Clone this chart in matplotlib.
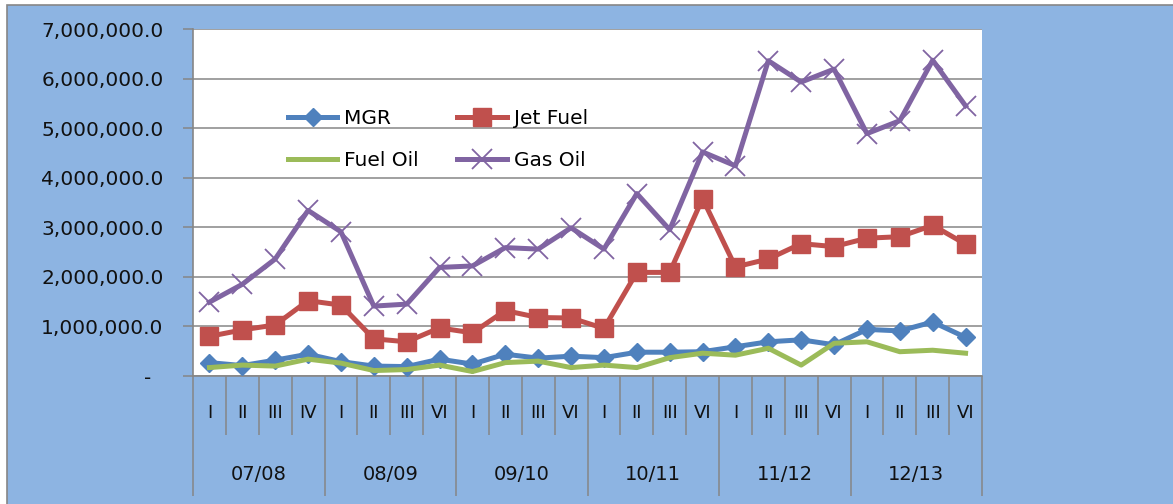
import matplotlib
matplotlib.use("Agg")
import matplotlib.pyplot as plt
from matplotlib.patches import Rectangle
from matplotlib.ticker import FuncFormatter, FixedLocator
import numpy as np

plt.rcParams['font.family'] = ['DejaVu Sans']

years = ["07/08", "08/09", "09/10", "10/11", "11/12", "12/13"]
quarters = ["I", "II", "III", "IV",
            "I", "II", "III", "VI",
            "I", "II", "III", "VI",
            "I", "II", "III", "VI",
            "I", "II", "III", "VI",
            "I", "II", "III", "VI"]

mgr = [270000, 210000, 320000, 440000, 290000, 200000, 190000, 340000,
       240000, 440000, 360000, 400000, 370000, 480000, 480000, 490000,
       590000, 690000, 730000, 630000, 940000, 910000, 1090000, 780000]
jet_fuel = [800000, 930000, 1030000, 1520000, 1430000, 750000, 690000, 970000,
            870000, 1320000, 1180000, 1170000, 960000, 2090000, 2090000, 3580000,
            2200000, 2360000, 2670000, 2610000, 2780000, 2810000, 3040000, 2660000]
fuel_oil = [170000, 220000, 200000, 340000, 260000, 110000, 130000, 220000,
            90000, 270000, 300000, 170000, 220000, 170000, 370000, 460000,
            420000, 560000, 220000, 660000, 690000, 490000, 520000, 460000]
gas_oil = [1490000, 1850000, 2360000, 3340000, 2910000, 1410000, 1450000, 2190000,
           2220000, 2590000, 2560000, 2990000, 2560000, 3680000, 2950000, 4520000,
           4240000, 6360000, 5930000, 6190000, 4890000, 5150000, 6370000, 5450000]

W, H = 1173, 504
fig = plt.figure(figsize=(W / 100, H / 100), dpi=100, facecolor="white")
bg = "#8DB4E2"
grey = "#868686"
fig.patches.append(Rectangle((7 / W, -0.01), 1.02, 1 - 5 / H + 0.01,
                             transform=fig.transFigure, facecolor=bg,
                             edgecolor=grey, linewidth=1.2, zorder=-5))

ax = fig.add_axes([193 / W, 1 - 376 / H, (982 - 193) / W, (376 - 29) / H])
ax.set_facecolor("white")

x = np.arange(len(quarters)) + 0.5
lw = 3.6
l1, = ax.plot(x, mgr, color="#4F81BD", lw=lw, marker="D", ms=9.5, label="MGR", zorder=3)
l2, = ax.plot(x, jet_fuel, color="#C0504D", lw=lw, marker="s", ms=13, label="Jet Fuel", zorder=3)
l3, = ax.plot(x, fuel_oil, color="#9BBB59", lw=lw, label="Fuel Oil", zorder=3)
l4, = ax.plot(x, gas_oil, color="#8064A2", lw=lw, marker="x", ms=14, mew=1.3,
              label="Gas Oil", zorder=3)

ax.set_xlim(0, len(quarters))
ax.set_ylim(0, 7000000)
ax.set_yticks(np.arange(0, 7000001, 1000000))
ax.yaxis.set_major_formatter(FuncFormatter(
    lambda v, p: "-\u2007" if v == 0 else f"{v:,.1f}"))
ax.grid(axis="y", color=grey, lw=1.1, zorder=1)
ax.set_axisbelow(True)

for s in ["top", "right"]:
    ax.spines[s].set_visible(False)
for s in ["left", "bottom"]:
    ax.spines[s].set_color(grey)
    ax.spines[s].set_linewidth(1.2)

ax.tick_params(axis="y", direction="out", length=7.2, width=1.1, color=grey,
               labelsize=14.5, labelcolor="#111111", pad=14)

# category axis: boundaries
nq = len(quarters)
ax.xaxis.set_major_locator(FixedLocator(np.arange(0, nq + 1, 4)))
ax.xaxis.set_minor_locator(FixedLocator([i for i in range(nq + 1) if i % 4]))
ax.tick_params(axis="x", which="major", direction="out", length=86.5, width=1.1,
               color=grey, labelbottom=False)
ax.tick_params(axis="x", which="minor", direction="out", length=42.5, width=1.1,
               color=grey, labelbottom=False)

tr = ax.get_xaxis_transform()
for xi, q in zip(x, quarters):
    ax.text(xi, -(413 - 376) / (376 - 29), q, transform=tr, ha="center",
            va="center", fontsize=13, color="#111111")
for k, yl in enumerate(years):
    ax.text(4 * k + 2, -(474 - 376) / (376 - 29), yl, transform=tr, ha="center",
            va="center", fontsize=14, color="#111111")

ax.legend([l1, l3, l2, l4], ["MGR", "Fuel Oil", "Jet Fuel", "Gas Oil"],
          loc="center left", bbox_to_anchor=((288 - 193) / 789, (376 - 139.5) / 347),
          ncol=2, frameon=False, fontsize=14.5, handlelength=2.45,
          handletextpad=0.35, columnspacing=1.9, labelspacing=1.1,
          borderpad=0, borderaxespad=0)

fig.savefig("out.png", dpi=100, facecolor=fig.get_facecolor())
